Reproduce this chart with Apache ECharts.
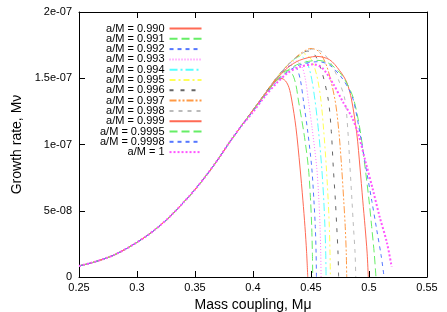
<!DOCTYPE html>
<html>
<head>
<meta charset="utf-8">
<script src="https://cdn.jsdelivr.net/npm/echarts@6/dist/echarts.min.js"></script>
<style>
html,body{margin:0;padding:0;background:#fff;}
#chart{width:447px;height:312px;}
</style>
</head>
<body>
<div id="chart"></div>
<script>
// ---- data ----
const seriesNames = ['a/M = 0.990','a/M = 0.991','a/M = 0.992','a/M = 0.993','a/M = 0.994','a/M = 0.995','a/M = 0.996','a/M = 0.997','a/M = 0.998','a/M = 0.999','a/M = 0.9995','a/M = 0.9998','a/M = 1'];
const xTicks = [0.25, 0.3, 0.35, 0.4, 0.45, 0.5, 0.55];
const yTicks = [0, 5e-8, 1e-7, 1.5e-7, 2e-7];

// common rising part (all curves coincide here)
const riseX = [0.25, 0.26, 0.27, 0.28, 0.29, 0.30, 0.31, 0.32, 0.33, 0.34, 0.35, 0.36, 0.37, 0.38, 0.39];
const riseY = [8.3e-9, 1.05e-8, 1.32e-8, 1.65e-8, 2.1e-8, 2.62e-8, 3.2e-8, 3.9e-8, 4.7e-8, 5.62e-8, 6.6e-8, 7.7e-8, 8.9e-8, 1.02e-7, 1.14e-7];

// individual parts near the peak and the cut-off
const tail0990 = [[0.40,1.26e-7],[0.41,1.38e-7],[0.415,1.44e-7],[0.42,1.48e-7],[0.424,1.50e-7],[0.428,1.48e-7],[0.431,1.43e-7],[0.4334,1.336e-7],[0.437,1.13e-7],[0.4405,0.83e-7],[0.443,0.58e-7],[0.4448,0.38e-7],[0.4462,0.19e-7],[0.4472,0]];
const tail0991 = [[0.40,1.26e-7],[0.41,1.38e-7],[0.42,1.49e-7],[0.425,1.54e-7],[0.430,1.56e-7],[0.434,1.53e-7],[0.437,1.45e-7],[0.4391,1.336e-7],[0.444,1.08e-7],[0.4477,0.83e-7],[0.4495,0.60e-7],[0.4506,0.38e-7],[0.4512,0.18e-7],[0.4515,0]];
const tail0992 = [[0.40,1.26e-7],[0.41,1.38e-7],[0.42,1.495e-7],[0.427,1.565e-7],[0.434,1.60e-7],[0.438,1.57e-7],[0.441,1.48e-7],[0.4434,1.336e-7],[0.447,1.11e-7],[0.4506,0.83e-7],[0.4525,0.58e-7],[0.4537,0.38e-7],[0.4544,0.18e-7],[0.4547,0]];
const tail0993 = [[0.40,1.26e-7],[0.41,1.38e-7],[0.42,1.50e-7],[0.43,1.59e-7],[0.437,1.63e-7],[0.442,1.59e-7],[0.445,1.50e-7],[0.4477,1.336e-7],[0.451,1.12e-7],[0.4549,0.83e-7],[0.4568,0.58e-7],[0.4578,0.38e-7],[0.4584,0.18e-7],[0.4587,0]];
const tail0994 = [[0.40,1.26e-7],[0.41,1.38e-7],[0.42,1.50e-7],[0.43,1.60e-7],[0.441,1.665e-7],[0.446,1.63e-7],[0.450,1.52e-7],[0.4534,1.336e-7],[0.4565,1.10e-7],[0.4592,0.83e-7],[0.461,0.58e-7],[0.4620,0.38e-7],[0.4627,0.18e-7],[0.4630,0]];
const tail0995 = [[0.40,1.26e-7],[0.41,1.38e-7],[0.42,1.50e-7],[0.43,1.60e-7],[0.437,1.65e-7],[0.444,1.685e-7],[0.450,1.645e-7],[0.455,1.52e-7],[0.4585,1.336e-7],[0.461,1.10e-7],[0.4632,0.83e-7],[0.4648,0.58e-7],[0.4658,0.38e-7],[0.4664,0.18e-7],[0.4667,0]];
const tail0996 = [[0.40,1.26e-7],[0.41,1.38e-7],[0.42,1.50e-7],[0.43,1.60e-7],[0.44,1.675e-7],[0.447,1.705e-7],[0.453,1.68e-7],[0.459,1.56e-7],[0.4649,1.336e-7],[0.4675,1.10e-7],[0.4692,0.83e-7],[0.471,0.58e-7],[0.4722,0.38e-7],[0.4733,0.18e-7],[0.4738,0]];
const tail0997 = [[0.40,1.26e-7],[0.41,1.38e-7],[0.42,1.50e-7],[0.43,1.60e-7],[0.44,1.68e-7],[0.450,1.725e-7],[0.457,1.70e-7],[0.464,1.58e-7],[0.4707,1.336e-7],[0.474,1.10e-7],[0.4764,0.83e-7],[0.4782,0.58e-7],[0.4795,0.38e-7],[0.4804,0.18e-7],[0.4808,0]];
const tail0998 = [[0.40,1.26e-7],[0.41,1.38e-7],[0.42,1.50e-7],[0.43,1.60e-7],[0.44,1.675e-7],[0.452,1.72e-7],[0.46,1.695e-7],[0.468,1.60e-7],[0.4745,1.47e-7],[0.4793,1.336e-7],[0.4818,1.10e-7],[0.4836,0.83e-7],[0.4853,0.58e-7],[0.4866,0.38e-7],[0.4880,0.18e-7],[0.4886,0]];
const tail0999 = [[0.40,1.26e-7],[0.41,1.375e-7],[0.42,1.49e-7],[0.43,1.58e-7],[0.44,1.635e-7],[0.455,1.665e-7],[0.466,1.64e-7],[0.4745,1.56e-7],[0.4808,1.47e-7],[0.4850,1.336e-7],[0.4895,1.08e-7],[0.4922,0.83e-7],[0.4946,0.58e-7],[0.4966,0.38e-7],[0.4984,0.18e-7],[0.4994,0]];
const tail09995 = [[0.40,1.255e-7],[0.41,1.37e-7],[0.42,1.48e-7],[0.43,1.56e-7],[0.44,1.61e-7],[0.456,1.635e-7],[0.466,1.61e-7],[0.476,1.53e-7],[0.4822,1.44e-7],[0.4870,1.336e-7],[0.4925,1.10e-7],[0.4966,0.83e-7],[0.500,0.58e-7],[0.5023,0.38e-7],[0.5045,0.18e-7],[0.5060,0]];
const tail09998 = [[0.40,1.25e-7],[0.41,1.365e-7],[0.42,1.47e-7],[0.43,1.55e-7],[0.44,1.60e-7],[0.456,1.625e-7],[0.466,1.60e-7],[0.476,1.51e-7],[0.4825,1.42e-7],[0.4865,1.336e-7],[0.4915,1.12e-7],[0.4965,0.87e-7],[0.5025,0.57e-7],[0.5066,0.36e-7],[0.5105,0.16e-7],[0.5130,0]];
const tail1000 = [[0.40,1.245e-7],[0.41,1.36e-7],[0.42,1.46e-7],[0.43,1.54e-7],[0.44,1.585e-7],[0.452,1.605e-7],[0.460,1.575e-7],[0.469,1.46e-7],[0.4776,1.32e-7],[0.485,1.21e-7],[0.4905,1.087e-7],[0.497,0.87e-7],[0.5034,0.657e-7],[0.509,0.46e-7],[0.5155,0.257e-7],[0.5195,0.078e-7]];

const tails = [tail0990, tail0991, tail0992, tail0993, tail0994, tail0995, tail0996, tail0997, tail0998, tail0999, tail09995, tail09998, tail1000];

// ---- styles ----
const styles = [
  {color:'#ff6a55', type:'solid', width:1},
  {color:'#66ee66', type:[8,4], width:1},
  {color:'#5577ff', type:[4,4], width:1},
  {color:'#ff77ff', type:[1,2], width:1},
  {color:'#55ffff', type:[8,3,2,3], width:1},
  {color:'#ffff55', type:[6,3,2,3], width:1},
  {color:'#666666', type:[4,7], width:1},
  {color:'#ff9944', type:[7,2,2,2,2,2], width:1},
  {color:'#bbbbbb', type:[4,5], width:1},
  {color:'#ff6a55', type:'solid', width:1},
  {color:'#66ee66', type:[8,4], width:1},
  {color:'#5577ff', type:[4,4], width:1},
  {color:'#ff55ff', type:[2,2], width:2}
];

function fmtY(v){
  if (Math.abs(v) < 1e-15) return '0';
  const e = Math.floor(Math.log10(Math.abs(v)) + 1e-9);
  const m = Math.round(v / Math.pow(10, e) * 100) / 100;
  return m + 'e' + (e < 0 ? '-' : '+') + String(Math.abs(e)).padStart(2, '0');
}

const font = 'Liberation Sans, Arial, Helvetica, sans-serif';

const series = seriesNames.map(function(name, i){
  const pts = riseX.map(function(x, k){ return [x, riseY[k]]; }).concat(tails[i]);
  return {
    name: name,
    type: 'line',
    xAxisIndex: 0,
    yAxisIndex: 0,
    data: pts,
    symbol: 'none',
    showSymbol: false,
    smooth: 0.3,
    clip: true,
    lineStyle: {color: styles[i].color, type: styles[i].type, width: styles[i].width},
    itemStyle: {color: styles[i].color},
    z: 2 + i
  };
});

const chart = echarts.init(document.getElementById('chart'), null, {renderer: 'canvas'});
chart.setOption({
  animation: false,
  backgroundColor: '#ffffff',
  grid: {left: 79, right: 20, top: 12, bottom: 35, containLabel: false, outerBoundsMode: 'none'},
  legend: {
    orient: 'vertical',
    left: 100,
    top: 23,
    align: 'right',
    itemWidth: 32,
    itemHeight: 10,
    itemGap: -0.7,
    padding: 0,
    itemStyle: {opacity: 0},
    textStyle: {fontSize: 11, fontFamily: font, color: '#000', lineHeight: 10},
    data: seriesNames
  },
  xAxis: [{
    type: 'value', min: 0.25, max: 0.55, interval: 0.05,
    position: 'bottom',
    name: 'Mass coupling, Mμ', nameLocation: 'middle', nameGap: 17,
    nameTextStyle: {fontSize: 14, fontFamily: font, color: '#000'},
    axisLine: {show: true, lineStyle: {color: '#000', width: 1}},
    axisTick: {show: true, inside: true, length: 6, lineStyle: {color: '#000'}},
    axisLabel: {fontSize: 11, fontFamily: font, color: '#000', margin: 5,
      formatter: function(v){ return String(+v.toFixed(2)); }},
    splitLine: {show: false}
  }, {
    type: 'value', min: 0.25, max: 0.55, interval: 0.05,
    position: 'top',
    axisLine: {show: true, onZero: false, lineStyle: {color: '#000', width: 1}},
    axisTick: {show: true, inside: true, length: 6, lineStyle: {color: '#000'}},
    axisLabel: {show: false},
    splitLine: {show: false}
  }],
  yAxis: [{
    type: 'value', min: 0, max: 2e-7, interval: 5e-8,
    position: 'left',
    name: 'Growth rate, Mν', nameLocation: 'middle', nameGap: 52,
    nameTextStyle: {fontSize: 14, fontFamily: font, color: '#000'},
    axisLine: {show: true, onZero: false, lineStyle: {color: '#000', width: 1}},
    axisTick: {show: true, inside: true, length: 6, lineStyle: {color: '#000'}},
    axisLabel: {fontSize: 11, fontFamily: font, color: '#000', margin: 7, formatter: fmtY},
    splitLine: {show: false}
  }, {
    type: 'value', min: 0, max: 2e-7, interval: 5e-8,
    position: 'right',
    axisLine: {show: true, onZero: false, lineStyle: {color: '#000', width: 1}},
    axisTick: {show: true, inside: true, length: 6, lineStyle: {color: '#000'}},
    axisLabel: {show: false},
    splitLine: {show: false}
  }],
  series: series
});
</script>
</body>
</html>
